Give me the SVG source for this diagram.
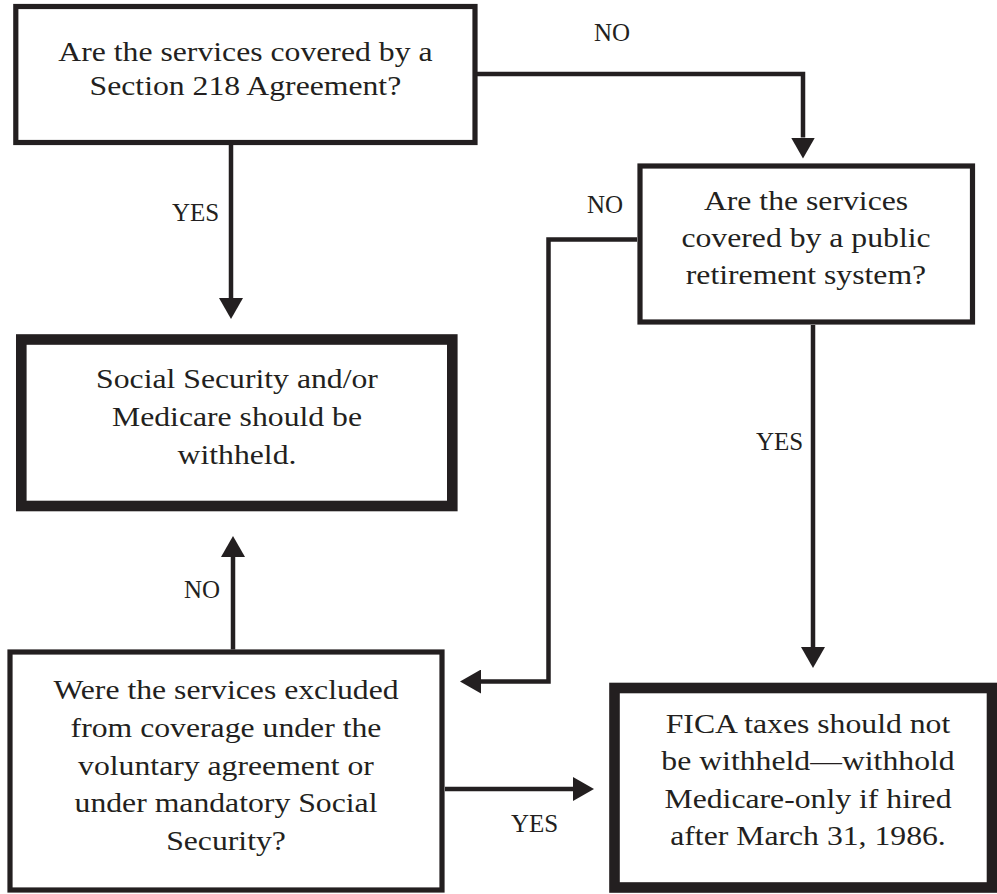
<svg xmlns="http://www.w3.org/2000/svg" width="997" height="894" viewBox="0 0 997 894">
<style>
  .box{fill:#fff;stroke:#231f20}
  .thin{stroke-width:5.2}
  .thick{stroke-width:10.6}
  .t{font-family:"Liberation Serif","Times New Roman",serif;font-size:28px;fill:#231f20;text-anchor:middle}
  .lbl{font-family:"Liberation Serif","Times New Roman",serif;font-size:25px;fill:#231f20}
  .conn{fill:none;stroke:#231f20;stroke-width:4.5}
</style>
<defs>
  <marker id="ah" markerUnits="userSpaceOnUse" markerWidth="22" markerHeight="24" refX="0" refY="12" orient="auto" viewBox="0 0 22 24">
    <path d="M0,0 L21,12 L0,24 Z" fill="#231f20"/>
  </marker>
</defs>
<rect width="997" height="894" fill="#fff"/>

<g id="connectors">
  <path class="conn" d="M475,74 H803 V137.5" marker-end="url(#ah)"/>
  <path class="conn" d="M231,145 V298" marker-end="url(#ah)"/>
  <path class="conn" d="M637,239.5 H548.5 V681.5 H481" marker-end="url(#ah)"/>
  <path class="conn" d="M813,325 V647" marker-end="url(#ah)"/>
  <path class="conn" d="M233,649.5 V557" marker-end="url(#ah)"/>
  <path class="conn" d="M445,789 H573" marker-end="url(#ah)"/>
  <text class="lbl" x="594" y="41">NO</text>
  <text class="lbl" x="172" y="221">YES</text>
  <text class="lbl" x="587" y="213">NO</text>
  <text class="lbl" x="756" y="450">YES</text>
  <text class="lbl" x="184" y="598">NO</text>
  <text class="lbl" x="511" y="832">YES</text>
</g>

<g id="q1">
  <rect class="box thin" x="15.8" y="6.5" width="459.2" height="136"/>
  <g transform="translate(245.4 0) scale(1.133 1)">
    <text class="t" x="0" y="61">Are the services covered by a</text>
    <text class="t" x="0" y="95">Section 218 Agreement?</text>
  </g>
</g>

<g id="withhold">
  <rect class="box thick" x="21.3" y="339.5" width="431" height="166.5"/>
  <g transform="translate(237 0) scale(1.133 1)">
    <text class="t" x="0" y="388.5">Social Security and/or</text>
    <text class="t" x="0" y="426.5">Medicare should be</text>
    <text class="t" x="0" y="464">withheld.</text>
  </g>
</g>

<g id="q2">
  <rect class="box thin" x="640" y="166" width="332.5" height="156"/>
  <g transform="translate(806 0) scale(1.133 1)">
    <text class="t" x="0" y="210">Are the services</text>
    <text class="t" x="0" y="247">covered by a public</text>
    <text class="t" x="0" y="284.5">retirement system?</text>
  </g>
</g>

<g id="q3">
  <rect class="box thin" x="10" y="652" width="432" height="238"/>
  <g transform="translate(226 0) scale(1.133 1)">
    <text class="t" x="0" y="699.5">Were the services excluded</text>
    <text class="t" x="0" y="737">from coverage under the</text>
    <text class="t" x="0" y="775">voluntary agreement or</text>
    <text class="t" x="0" y="812.5">under mandatory Social</text>
    <text class="t" x="0" y="850">Security?</text>
  </g>
</g>

<g id="fica">
  <rect class="box thick" x="614.5" y="688" width="377.5" height="199.5"/>
  <g transform="translate(808 0) scale(1.133 1)">
    <text class="t" x="0" y="733">FICA taxes should not</text>
    <text class="t" x="0" y="770.5">be withheld—withhold</text>
    <text class="t" x="0" y="808">Medicare-only if hired</text>
    <text class="t" x="0" y="845.5">after March 31, 1986.</text>
  </g>
</g>
</svg>
